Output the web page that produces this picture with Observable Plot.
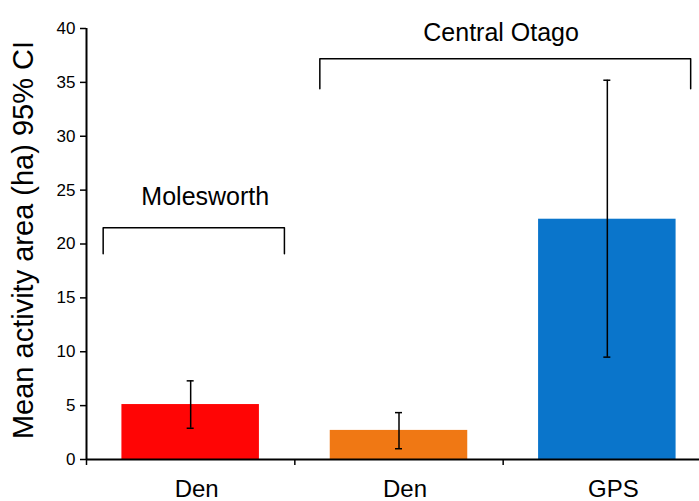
<!DOCTYPE html>
<html>
<head>
<meta charset="utf-8">
<script src="https://cdn.jsdelivr.net/npm/d3@7"></script>
<script src="https://cdn.jsdelivr.net/npm/@observablehq/plot@0.6"></script>
<style>
  html, body { margin: 0; padding: 0; background: #fff; }
  #chart { width: 699px; height: 501px; }
</style>
</head>
<body>
<div id="chart"></div>
<script>
// ---- data ----
const labels  = ["Den", "Den", "GPS"];
const sites   = ["Molesworth", "Central Otago", "Central Otago"];
const means   = [5.1, 2.7, 22.3];
const ciLow   = [2.9, 1.0, 9.5];
const ciHigh  = [7.3, 4.35, 35.2];
const colors  = ["#ff0505", "#f07814", "#0a75cb"];
const yTicks  = [0, 5, 10, 15, 20, 25, 30, 35, 40];
const yLabel  = "Mean activity area (ha) 95% CI";

const bars = labels.map((label, i) => ({
  i, label, site: sites[i], mean: means[i], lo: ciLow[i], hi: ciHigh[i], color: colors[i]
}));

// bracket annotations (x in bar-index units, y in data units)
const brackets = [
  {name: "Molesworth",    x1: 0.08, x2: 0.95, yTop: 21.5, yBottom: 19.1, yText: 24.4, xText: 0.57},
  {name: "Central Otago", x1: 1.12, x2: 2.90, yTop: 37.2, yBottom: 34.4, yText: 39.6, xText: 1.99}
];
const bracketPts = brackets.flatMap((b, k) => [
  {k, x: b.x1, y: b.yBottom}, {k, x: b.x1, y: b.yTop},
  {k, x: b.x2, y: b.yTop},    {k, x: b.x2, y: b.yBottom}
]);

const font = "'Liberation Sans', Arial, Helvetica, sans-serif";

const chart = Plot.plot({
  width: 699,
  height: 501,
  marginTop: 28,
  marginBottom: 42,
  marginLeft: 86,
  marginRight: 0,
  style: {fontFamily: font, color: "#000", background: "#fff", overflow: "visible"},
  x: {domain: [0, 3], range: [86, 711], axis: null},
  y: {domain: [0, 40], axis: null},
  marks: [
    Plot.rectY(bars, {
      x1: d => d.i + 0.17, x2: d => d.i + 0.83, y: "mean",
      fill: d => d.color
    }),
    // error bars
    Plot.ruleX(bars, {x: d => d.i + 0.5, y1: "lo", y2: "hi", stroke: "#000", strokeWidth: 1.5}),
    Plot.ruleY(bars, {y: "lo", x1: d => d.i + 0.5, x2: d => d.i + 0.5, insetLeft: -3.5, insetRight: -3.5, stroke: "#000", strokeWidth: 1.5}),
    Plot.ruleY(bars, {y: "hi", x1: d => d.i + 0.5, x2: d => d.i + 0.5, insetLeft: -3.5, insetRight: -3.5, stroke: "#000", strokeWidth: 1.5}),
    // axes
    Plot.axisY({ticks: yTicks, tickSize: 6, tickPadding: 5, fontSize: 17, label: null, strokeWidth: 1.5}),
    Plot.axisX({ticks: [0, 1, 2], tickFormat: () => "", tickSize: 6, label: null, strokeWidth: 1.5}),
    Plot.ruleX([0], {stroke: "#000", strokeWidth: 2}),
    Plot.ruleY([0], {stroke: "#000", strokeWidth: 2}),
    // category labels
    Plot.text(bars, {x: d => d.i + 0.5, y: 0, text: "label", lineAnchor: "bottom", dy: 37, dx: 6, fontSize: 24, fill: "#000"}),
    // y label
    Plot.text([yLabel], {frameAnchor: "left", textAnchor: "middle", rotate: -90, dx: -63, dy: -4, fontSize: 29, fill: "#000"}),
    // brackets
    Plot.line(bracketPts, {x: "x", y: "y", z: "k", stroke: "#000", strokeWidth: 1.5, strokeLinejoin: "round"}),
    Plot.text(brackets, {x: "xText", y: "yText", text: "name", fontSize: 25, fill: "#000"})
  ]
});

document.getElementById("chart").appendChild(chart);
</script>
</body>
</html>
